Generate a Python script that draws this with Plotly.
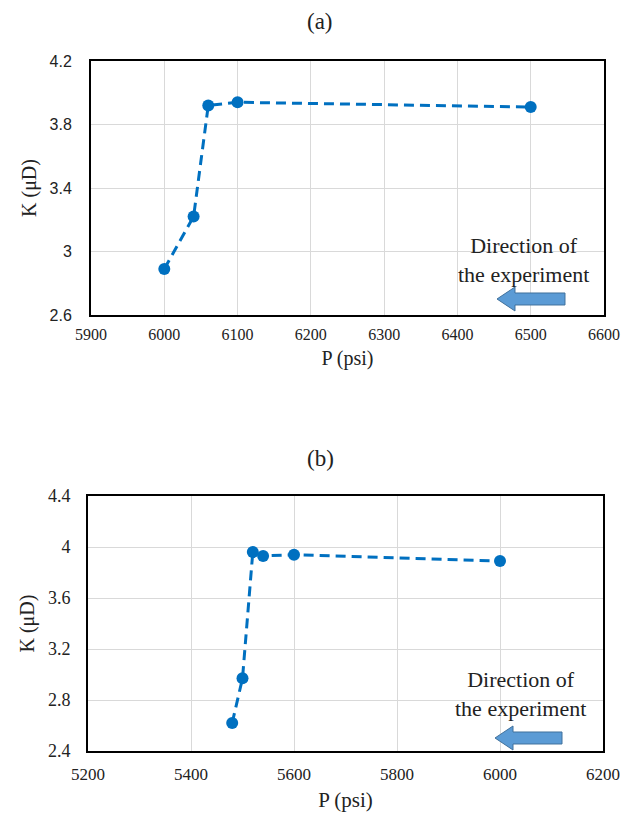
import plotly.graph_objects as go

# ---- data ----
a_P = [6000, 6040, 6060, 6100, 6500]
a_K = [2.89, 3.22, 3.92, 3.94, 3.91]
b_P = [5480, 5500, 5520, 5540, 5600, 6000]
b_K = [2.62, 2.97, 3.96, 3.93, 3.94, 3.89]

a_xticks = [5900, 6000, 6100, 6200, 6300, 6400, 6500, 6600]
a_yticks = [2.6, 3.0, 3.4, 3.8, 4.2]
a_ylabels = ["2.6", "3", "3.4", "3.8", "4.2"]
b_xticks = [5200, 5400, 5600, 5800, 6000, 6200]
b_yticks = [2.4, 2.8, 3.2, 3.6, 4.0, 4.4]
b_ylabels = ["2.4", "2.8", "3.2", "3.6", "4", "4.4"]

W, H = 622, 814
BLUE = "#0070C0"
SERIF = "Liberation Serif, Times New Roman, serif"
SANS = "Liberation Sans, Arial, sans-serif"
TXT = "#222222"


def px(x):
    return x / W


def py(y):
    return 1 - y / H


fig = go.Figure()
line = dict(color=BLUE, width=3, dash="10px,6px")
marker = dict(color=BLUE, size=12)
fig.add_trace(go.Scatter(x=a_P, y=a_K, mode="lines+markers", line=line,
                         marker=marker, xaxis="x", yaxis="y", showlegend=False))
fig.add_trace(go.Scatter(x=b_P, y=b_K, mode="lines+markers", line=line,
                         marker=marker, xaxis="x2", yaxis="y2", showlegend=False))

common = dict(showgrid=True, gridcolor="#D9D9D9", gridwidth=1, zeroline=False,
              showline=True, linecolor="black", linewidth=2, mirror=True,
              ticks="", automargin=False, ticklabeloverflow="allow")

fig.update_layout(
    width=W, height=H, margin=dict(l=0, r=0, t=0, b=0),
    paper_bgcolor="white", plot_bgcolor="white",
    font=dict(family=SERIF, color=TXT),
    xaxis=dict(common, domain=[px(91), px(604)], anchor="y", range=[5900, 6600],
               tickvals=a_xticks, ticktext=[str(v) for v in a_xticks],
               tickfont=dict(family=SERIF, size=16, color=TXT),
               ticklabelstandoff=4,
               title=dict(text="P (psi)", font=dict(family=SERIF, size=20, color=TXT), standoff=9)),
    yaxis=dict(common, domain=[py(315), py(61)], anchor="x", range=[2.6, 4.2],
               tickvals=a_yticks, ticktext=a_ylabels,
               tickfont=dict(family=SANS, size=16, color=TXT), ticklabelstandoff=14,
               title=dict(text="K (μD)", font=dict(family=SERIF, size=20, color=TXT), standoff=8)),
    xaxis2=dict(common, domain=[px(88), px(603)], anchor="y2", range=[5200, 6200],
                tickvals=b_xticks, ticktext=[str(v) for v in b_xticks],
                tickfont=dict(family=SERIF, size=17, color=TXT),
                ticklabelstandoff=7,
                title=dict(text="P (psi)", font=dict(family=SERIF, size=21, color=TXT), standoff=9)),
    yaxis2=dict(common, domain=[py(751), py(496)], anchor="x2", range=[2.4, 4.4],
                tickvals=b_yticks, ticktext=b_ylabels,
                tickfont=dict(family=SERIF, size=18, color=TXT), ticklabelstandoff=12,
                title=dict(text="K (μD)", font=dict(family=SERIF, size=20, color=TXT), standoff=8)),
)

annotations = [
    dict(text="(a)", x=px(320), y=py(21), xref="paper", yref="paper", showarrow=False,
         font=dict(family=SERIF, size=23, color=TXT), xanchor="center", yanchor="middle"),
    dict(text="(b)", x=px(320), y=py(458), xref="paper", yref="paper", showarrow=False,
         font=dict(family=SERIF, size=23, color=TXT), xanchor="center", yanchor="middle"),
    dict(text="Direction of<br>the experiment", x=px(523), y=py(260), xref="paper", yref="paper",
         showarrow=False, font=dict(family=SERIF, size=22, color=TXT),
         xanchor="center", yanchor="middle", align="center"),
    dict(text="Direction of<br>the experiment", x=px(520), y=py(694), xref="paper", yref="paper",
         showarrow=False, font=dict(family=SERIF, size=22, color=TXT),
         xanchor="center", yanchor="middle", align="center"),
]
fig.update_layout(annotations=annotations)


def block_arrow(x0, x1, yc, body=12, head=24, headlen=18):
    pts = [
        (x0, yc),
        (x0 + headlen, yc - head / 2),
        (x0 + headlen, yc - body / 2),
        (x1, yc - body / 2),
        (x1, yc + body / 2),
        (x0 + headlen, yc + body / 2),
        (x0 + headlen, yc + head / 2),
    ]
    path = "M " + " L ".join(f"{px(x):.5f},{py(y):.5f}" for x, y in pts) + " Z"
    return dict(type="path", path=path, xref="paper", yref="paper",
                fillcolor="#5B9BD5", line=dict(color="#41719C", width=1))


fig.update_layout(shapes=[block_arrow(497, 565, 299), block_arrow(495, 562, 738)])

fig.write_html("out.html")
